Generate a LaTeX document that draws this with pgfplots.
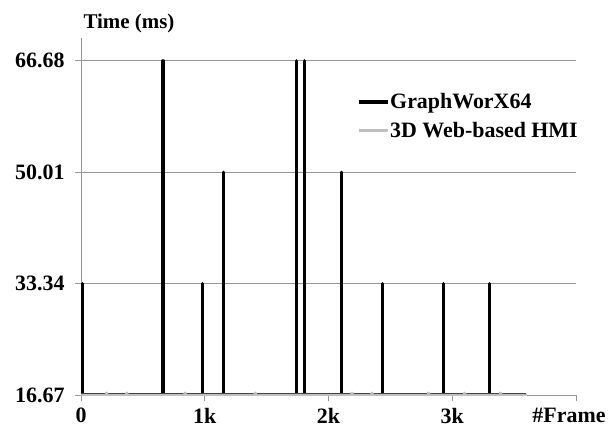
\documentclass[border=0pt]{standalone}
\usepackage{fontspec}
\setmainfont{Liberation Serif}
\usepackage{pgfplots}
\pgfplotsset{compat=1.18}
\definecolor{gridgray}{RGB}{150,150,150}
\definecolor{hmigray}{RGB}{191,191,191}
\begin{document}
\begin{tikzpicture}
\begin{axis}[
  at={(0,0)}, anchor=south west,
  scale only axis, width=495bp, height=357bp,
  xmin=0, xmax=4000, ymin=16.67, ymax=70.1,
  axis x line=bottom, axis y line=left,
  axis line style={-, draw=gridgray, line width=0.8pt},
  xtick={0,1000,2000,3000,4000},
  xticklabels={0,1k,2k,3k,\hspace*{-14bp}\#Frame},
  ytick={16.67,33.34,50.01,66.68},
  yticklabels={16.67,33.34,50.01,66.68},
  tick align=outside, major tick length=6bp,
  tick style={draw=gridgray, line width=0.8pt},
  ymajorgrids, grid style={draw=gridgray, line width=0.8pt},
  ticklabel style={font=\fontsize{22}{26}\selectfont\bfseries},
  yticklabel style={xshift=-7bp},
  xticklabel style={yshift=-3.5bp},
  ylabel={Time (ms)},
  ylabel style={rotate=-90, at={(axis description cs:0.097,1)}, anchor=base, yshift=9bp, font=\fontsize{21}{25}\selectfont\bfseries},
  legend style={draw=none, fill=none, at={(0.557,0.85)}, anchor=north west,
    font=\fontsize{22}{26}\selectfont\bfseries, row sep=8bp, inner sep=0pt,
    nodes={inner xsep=1bp}},
  legend cell align=left,
  legend image code/.code={\draw[#1] (0bp,0bp) -- (29bp,0bp);},
]
\addplot[black, line width=3.3pt, line join=round] coordinates {
(0,16.67) (10,16.67) (10,33.34) (10,16.67)
(663,16.67) (663,66.68) (663,16.67)
(979,16.67) (979,33.34) (979,16.67)
(1149,16.67) (1149,50.01) (1149,16.67)
(1740,16.67) (1740,66.68) (1740,16.67)
(1804,16.67) (1804,66.68) (1804,16.67)
(2104,16.67) (2104,50.01) (2104,16.67)
(2435,16.67) (2435,33.34) (2435,16.67)
(2929,16.67) (2929,33.34) (2929,16.67)
(3301,16.67) (3301,33.34) (3301,16.67)
(3600,16.67)
};
\addlegendentry{GraphWorX64}
\addplot[hmigray, line width=2.6pt, line join=round] coordinates {
(0,16.67) (200,16.67) (207,17.0) (214,16.67)
(363,16.67) (370,17.0) (377,16.67)
(834,16.67) (841,17.0) (848,16.67)
(1401,16.67) (1408,17.0) (1415,16.67)
(2183,16.67) (2190,17.0) (2197,16.67)
(2345,16.67) (2352,17.0) (2359,16.67)
(2801,16.67) (2808,17.0) (2815,16.67)
(3093,16.67) (3100,17.0) (3107,16.67)
(3383,16.67) (3390,17.0) (3397,16.67)
(3606,16.67)
};
\addlegendentry{3D Web-based HMI}
\end{axis}
\pgfresetboundingbox
\path (-81bp,-33bp) rectangle (534bp,395bp);
\end{tikzpicture}
\end{document}
